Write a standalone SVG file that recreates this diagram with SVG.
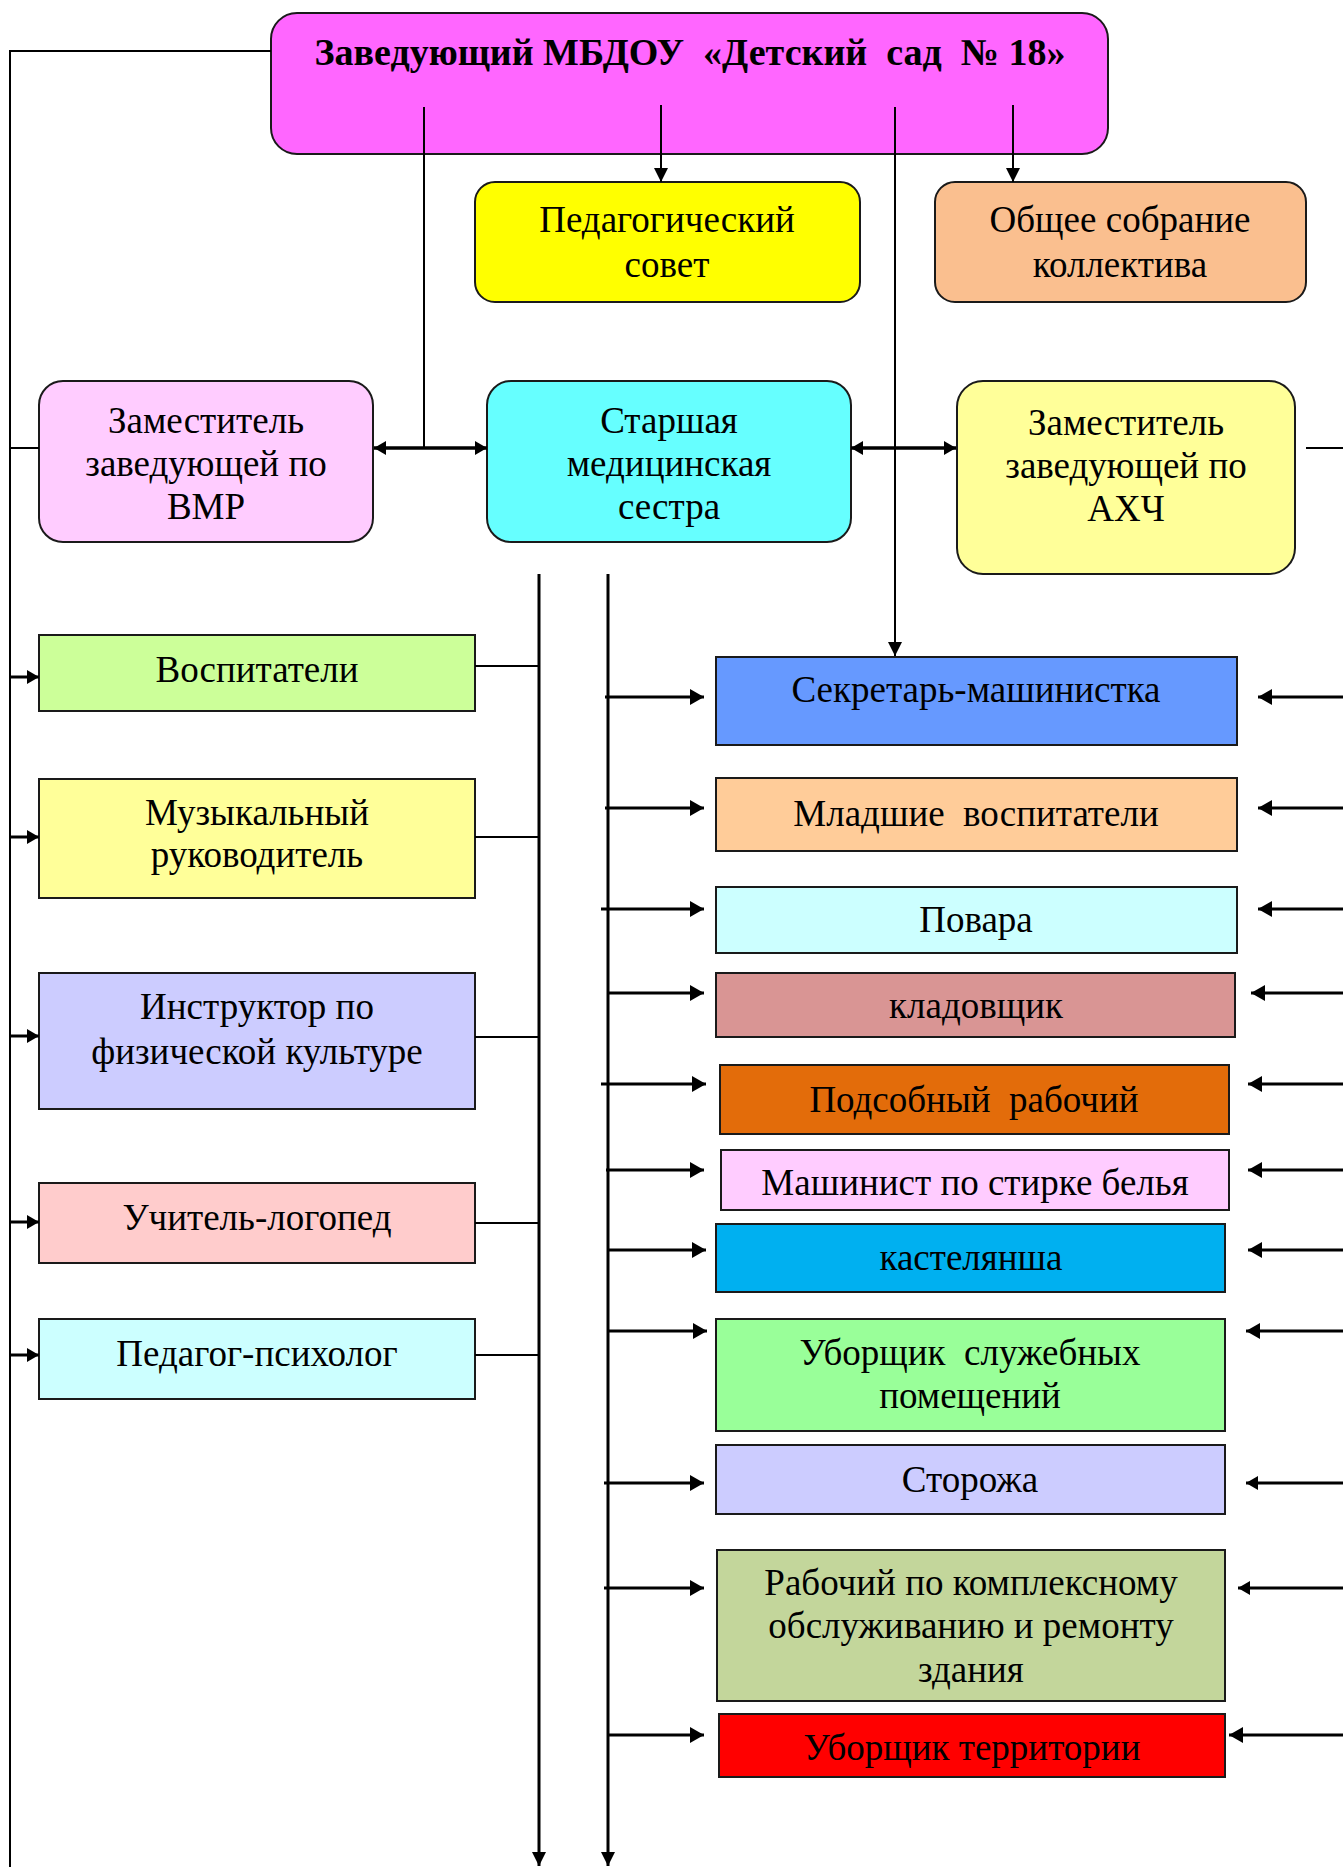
<svg xmlns="http://www.w3.org/2000/svg" width="1343" height="1867" viewBox="0 0 1343 1867" xml:space="preserve">
<style>
text{font-family:"Liberation Serif","Times New Roman",serif;font-size:37px;fill:#000;text-anchor:middle;white-space:pre}
.t{font-weight:bold;font-size:38px}
.b{stroke:#1a1a1a;stroke-width:2}
.c{fill:none;stroke:#000}
.w2{stroke-width:2}
.w3{stroke-width:3}
.w4{stroke-width:3.5}
</style>
<defs>
<marker id="a" markerUnits="userSpaceOnUse" markerWidth="14" markerHeight="16" refX="14" refY="8" orient="auto" viewBox="0 0 14 16"><path d="M0,0 L14,8 L0,16 z" fill="#000"/></marker>
<marker id="s" markerUnits="userSpaceOnUse" markerWidth="12" markerHeight="14" refX="12" refY="7" orient="auto-start-reverse" viewBox="0 0 12 14"><path d="M0,0 L12,7 L0,14 z" fill="#000"/></marker>
<marker id="d" markerUnits="userSpaceOnUse" markerWidth="14" markerHeight="14" refX="14" refY="7" orient="auto" viewBox="0 0 14 14"><path d="M0,0 L14,7 L0,14 z" fill="#000"/></marker>
</defs>
<rect width="1343" height="1867" fill="#fff"/>
<g id="head"><rect class="b" x="271" y="13" width="837" height="141" rx="26" fill="#FF66FF"/><text class="t" x="690" y="65">Заведующий МБДОУ  «Детский  сад  № 18»</text></g>
<g id="pedsovet"><rect class="b" x="475" y="182" width="385" height="120" rx="20" fill="#FFFF00"/><text x="667" y="232">Педагогический</text><text x="667" y="277">совет</text></g>
<g id="sobranie"><rect class="b" x="935" y="182" width="371" height="120" rx="20" fill="#FABF8F"/><text x="1120" y="232">Общее собрание</text><text x="1120" y="277">коллектива</text></g>
<g id="zam-vmr"><rect class="b" x="39" y="381" width="334" height="161" rx="24" fill="#FFCCFF"/><text x="206" y="433">Заместитель</text><text x="206" y="476">заведующей по</text><text x="206" y="519">ВМР</text></g>
<g id="medsestra"><rect class="b" x="487" y="381" width="364" height="161" rx="24" fill="#66FFFF"/><text x="669" y="433">Старшая</text><text x="669" y="476">медицинская</text><text x="669" y="519">сестра</text></g>
<g id="zam-ahch"><rect class="b" x="957" y="381" width="338" height="193" rx="26" fill="#FFFF99"/><text x="1126" y="435">Заместитель</text><text x="1126" y="478">заведующей по</text><text x="1126" y="521">АХЧ</text></g>
<g id="vospitateli"><rect class="b" x="39" y="635" width="436" height="76" fill="#CCFF99"/><text x="257" y="682">Воспитатели</text></g>
<g id="muz"><rect class="b" x="39" y="779" width="436" height="119" fill="#FFFF99"/><text x="257" y="825">Музыкальный</text><text x="257" y="867">руководитель</text></g>
<g id="fiz"><rect class="b" x="39" y="973" width="436" height="136" fill="#CCCCFF"/><text x="257" y="1019">Инструктор по</text><text x="257" y="1064">физической культуре</text></g>
<g id="logoped"><rect class="b" x="39" y="1183" width="436" height="80" fill="#FFCCCC"/><text x="257" y="1230">Учитель-логопед</text></g>
<g id="psiholog"><rect class="b" x="39" y="1319" width="436" height="80" fill="#CCFFFF"/><text x="257" y="1366">Педагог-психолог</text></g>
<g id="sekretar"><rect class="b" x="716" y="657" width="521" height="88" fill="#6699FF"/><text x="976" y="702">Секретарь-машинистка</text></g>
<g id="mladshie"><rect class="b" x="716" y="778" width="521" height="73" fill="#FFCC99"/><text x="976" y="826">Младшие  воспитатели</text></g>
<g id="povara"><rect class="b" x="716" y="887" width="521" height="66" fill="#CCFFFF"/><text x="976" y="932">Повара</text></g>
<g id="kladovshik"><rect class="b" x="716" y="973" width="519" height="64" fill="#D99594"/><text x="976" y="1018">кладовщик</text></g>
<g id="podsobny"><rect class="b" x="720" y="1065" width="509" height="69" fill="#E36C0A"/><text x="974" y="1112">Подсобный  рабочий</text></g>
<g id="mashinist"><rect class="b" x="721" y="1150" width="508" height="60" fill="#FFCCFF"/><text x="975" y="1195">Машинист по стирке белья</text></g>
<g id="kastelyansha"><rect class="b" x="716" y="1224" width="509" height="68" fill="#00B0F0"/><text x="971" y="1270">кастелянша</text></g>
<g id="uborshik-sl"><rect class="b" x="716" y="1319" width="509" height="112" fill="#99FF99"/><text x="970" y="1365">Уборщик  служебных</text><text x="970" y="1408">помещений</text></g>
<g id="storozha"><rect class="b" x="716" y="1445" width="509" height="69" fill="#CCCCFF"/><text x="970" y="1492">Сторожа</text></g>
<g id="rabochy"><rect class="b" x="717" y="1550" width="508" height="151" fill="#C3D69B"/><text x="971" y="1595">Рабочий по комплексному</text><text x="971" y="1638">обслуживанию и ремонту</text><text x="971" y="1682">здания</text></g>
<g id="uborshik-ter"><rect class="b" x="719" y="1714" width="506" height="63" fill="#FF0000"/><text x="972" y="1760">Уборщик территории</text></g>
<g id="connectors">
<polyline class="c w2" points="271,51 10,51 10,1867"/>
<line class="c w2" x1="424" y1="107" x2="424" y2="448"/>
<line class="c w2" x1="661" y1="105" x2="661" y2="182" marker-end="url(#d)"/>
<line class="c w2" x1="1013" y1="105" x2="1013" y2="182" marker-end="url(#d)"/>
<line class="c w2" x1="895" y1="107" x2="895" y2="656" marker-end="url(#d)"/>
<line class="c w4" x1="374" y1="448" x2="487" y2="448" marker-start="url(#s)" marker-end="url(#s)"/>
<line class="c w4" x1="851" y1="448" x2="956" y2="448" marker-start="url(#s)" marker-end="url(#s)"/>
<line class="c w2" x1="10" y1="448" x2="39" y2="448"/>
<line class="c w2" x1="1306" y1="448" x2="1343" y2="448"/>
<line class="c w3" x1="539" y1="574" x2="539" y2="1866" marker-end="url(#d)"/>
<line class="c w3" x1="608" y1="574" x2="608" y2="1866" marker-end="url(#d)"/>
<line class="c w2" x1="475" y1="666" x2="539" y2="666"/>
<line class="c w2" x1="475" y1="837" x2="539" y2="837"/>
<line class="c w2" x1="475" y1="1037" x2="539" y2="1037"/>
<line class="c w2" x1="475" y1="1223" x2="539" y2="1223"/>
<line class="c w2" x1="475" y1="1355" x2="539" y2="1355"/>
<line class="c w3" x1="10" y1="677" x2="39" y2="677" marker-end="url(#s)"/>
<line class="c w3" x1="10" y1="837" x2="39" y2="837" marker-end="url(#s)"/>
<line class="c w3" x1="10" y1="1036" x2="39" y2="1036" marker-end="url(#s)"/>
<line class="c w3" x1="10" y1="1222" x2="39" y2="1222" marker-end="url(#s)"/>
<line class="c w3" x1="10" y1="1355" x2="39" y2="1355" marker-end="url(#s)"/>
<line class="c w3" x1="605" y1="697" x2="704" y2="697" marker-end="url(#a)"/>
<line class="c w3" x1="605" y1="808" x2="704" y2="808" marker-end="url(#a)"/>
<line class="c w3" x1="601" y1="909" x2="704" y2="909" marker-end="url(#a)"/>
<line class="c w3" x1="608" y1="993" x2="704" y2="993" marker-end="url(#a)"/>
<line class="c w3" x1="601" y1="1084" x2="706" y2="1084" marker-end="url(#a)"/>
<line class="c w3" x1="606" y1="1170" x2="704" y2="1170" marker-end="url(#a)"/>
<line class="c w3" x1="608" y1="1250" x2="706" y2="1250" marker-end="url(#a)"/>
<line class="c w3" x1="608" y1="1331" x2="707" y2="1331" marker-end="url(#a)"/>
<line class="c w3" x1="604" y1="1483" x2="704" y2="1483" marker-end="url(#a)"/>
<line class="c w3" x1="604" y1="1588" x2="704" y2="1588" marker-end="url(#a)"/>
<line class="c w3" x1="608" y1="1735" x2="704" y2="1735" marker-end="url(#a)"/>
<line class="c w3" x1="1343" y1="697" x2="1258" y2="697" marker-end="url(#a)"/>
<line class="c w3" x1="1343" y1="808" x2="1258" y2="808" marker-end="url(#a)"/>
<line class="c w3" x1="1343" y1="909" x2="1258" y2="909" marker-end="url(#a)"/>
<line class="c w3" x1="1343" y1="993" x2="1251" y2="993" marker-end="url(#a)"/>
<line class="c w3" x1="1343" y1="1084" x2="1248" y2="1084" marker-end="url(#a)"/>
<line class="c w3" x1="1343" y1="1170" x2="1248" y2="1170" marker-end="url(#a)"/>
<line class="c w3" x1="1343" y1="1250" x2="1248" y2="1250" marker-end="url(#a)"/>
<line class="c w3" x1="1343" y1="1331" x2="1246" y2="1331" marker-end="url(#a)"/>
<line class="c w3" x1="1343" y1="1483" x2="1246" y2="1483" marker-end="url(#s)"/>
<line class="c w3" x1="1343" y1="1588" x2="1238" y2="1588" marker-end="url(#s)"/>
<line class="c w3" x1="1343" y1="1735" x2="1229" y2="1735" marker-end="url(#a)"/>
</g>
</svg>
